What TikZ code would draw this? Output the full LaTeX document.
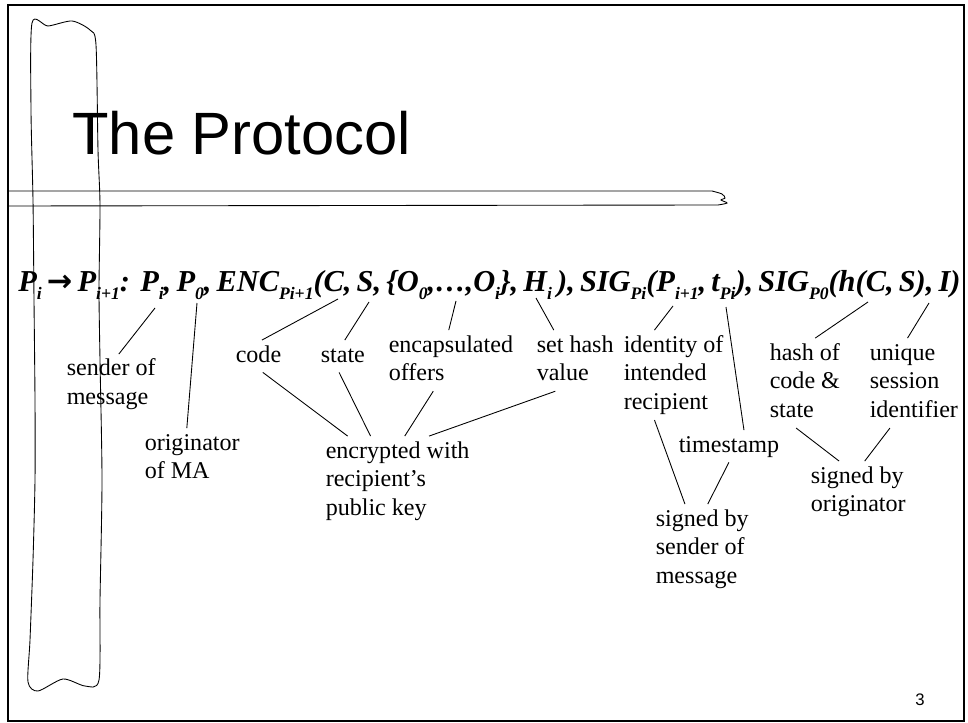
\documentclass[tikz,border=0pt]{standalone}
\usepackage{fontspec}
\setmainfont{Liberation Serif}
\newfontfamily\headfont{Liberation Sans}
\newfontfamily\arrowfont{DejaVu Sans}

\newcommand{\lo}[1]{\raisebox{-0.25em}{\fontsize{10}{10}\selectfont #1}}
\newcommand{\stack}[1]{\begin{tabular}[t]{@{}l@{}}#1\end{tabular}}

\tikzset{
  note/.style={anchor=base west, inner sep=0pt, outer sep=1pt, font=\fontsize{13.7}{16.4}\selectfont},
  link/.style={line width=0.5pt},
  scroll/.style={line width=0.5pt},
}

\begin{document}
\begin{tikzpicture}[x=0.02cm, y=-0.02cm]
\useasboundingbox (0,0) rectangle (968,723);
\draw[line width=1.1pt] (8,5) rectangle (964,721);

% rolled bars
\draw[scroll] plot[smooth cycle, tension=0.45] coordinates {
  (32,23) (48,26) (72,21) (90,30) (96,45) (98,150) (100,205) (99,290)
  (100,360) (102,480) (100,600) (99,680) (85,686) (63,679) (38,691)
  (28,682) (30,640) (33,560) (35,480) (35,400) (34,300) (33,200) (31,110)};
\draw[scroll] (8,191) -- (712,191)
  plot[smooth, tension=0.5] coordinates {(712,191) (722,194) (725,198) (721,200) (727,203) (718,205)}
  -- (8,206);

\node (title) [anchor=base west, inner sep=0pt, font=\headfont\fontsize{34}{40}\selectfont] at (72,155) {The Protocol};
\node (pageno) [anchor=base west, inner sep=0pt, font=\headfont\fontsize{9.5}{11}\selectfont] at (915,705) {3};

\node (msg) [anchor=base west, inner sep=0pt, font=\fontsize{17.3}{21}\selectfont\bfseries\itshape] at (18,292)
  {\spaceskip=0.17em\relax P\lo{i} {\arrowfont\upshape →} P\lo{i+1}:\ \ P\lo{i}, P\lo{0}, ENC\lo{Pi+1}(C, S, \{O\lo{0},…,O\lo{i}\}, H\lo{i} ), SIG\lo{Pi}(P\lo{i+1}, t\lo{Pi}), SIG\lo{P0}(h(C, S), I)};

\coordinate (at-pi) at (155,308);
\coordinate (at-p0) at (197,303);
\coordinate (at-c) at (338,299);
\coordinate (at-s) at (369,302);
\coordinate (at-o) at (456,301);
\coordinate (at-h) at (536,298);
\coordinate (at-next) at (673,306);
\coordinate (at-t) at (726,307);
\coordinate (at-hcs) at (868,302);
\coordinate (at-id) at (929,303);

\node (sender) [note] at (65,376) {\stack{sender of\\message}};
\node (origin) [note] at (143,450) {\stack{originator\\of MA}};
\node (code) [note] at (234,362) {\stack{code}};
\node (state) [note] at (319,362) {\stack{state}};
\node (offers) [note] at (387,352) {\stack{encapsulated\\offers}};
\node (hashval) [note] at (535,352) {\stack{set hash\\value}};
\node (encrypted) [note] at (324,458) {\stack{encrypted with\\recipient's\\public key}};
\node (recipient) [note] at (622,352) {\stack{identity of\\intended\\recipient}};
\node (stamp) [note] at (677,452) {\stack{timestamp}};
\node (bysender) [note] at (654,526) {\stack{signed by\\sender of\\message}};
\node (codehash) [note] at (768,360) {\stack{hash of\\code \&\\state}};
\node (session) [note] at (868,360) {\stack{unique\\session\\identifier}};
\node (byorigin) [note] at (809,483) {\stack{signed by\\originator}};

\draw[link] (at-pi) -- (sender.76);
\draw[link] (at-p0) -- (origin.100);
\draw[link] (at-c) -- (code.78);
\draw[link] (at-s) -- (state.83);
\draw[link] (at-o) -- (offers.94);
\draw[link] (at-h) -- (hashval.125);
\draw[link] (code.285) -- (encrypted.138);
\draw[link] (state.257) -- (encrypted.121);
\draw[link] (offers.240) -- (encrypted.81);
\draw[link] (hashval.237) -- (encrypted.55);
\draw[link] (at-next) -- (recipient.113);
\draw[link] (at-t) -- (stamp.47);
\draw[link] (recipient.247) -- (bysender.111);
\draw[link] (stamp.south) -- (bysender.83);
\draw[link] (at-hcs) -- (codehash.77);
\draw[link] (at-id) -- (session.98);
\draw[link] (codehash.259) -- (byorigin.122);
\draw[link] (session.242) -- (byorigin.78);
\end{tikzpicture}
\end{document}
